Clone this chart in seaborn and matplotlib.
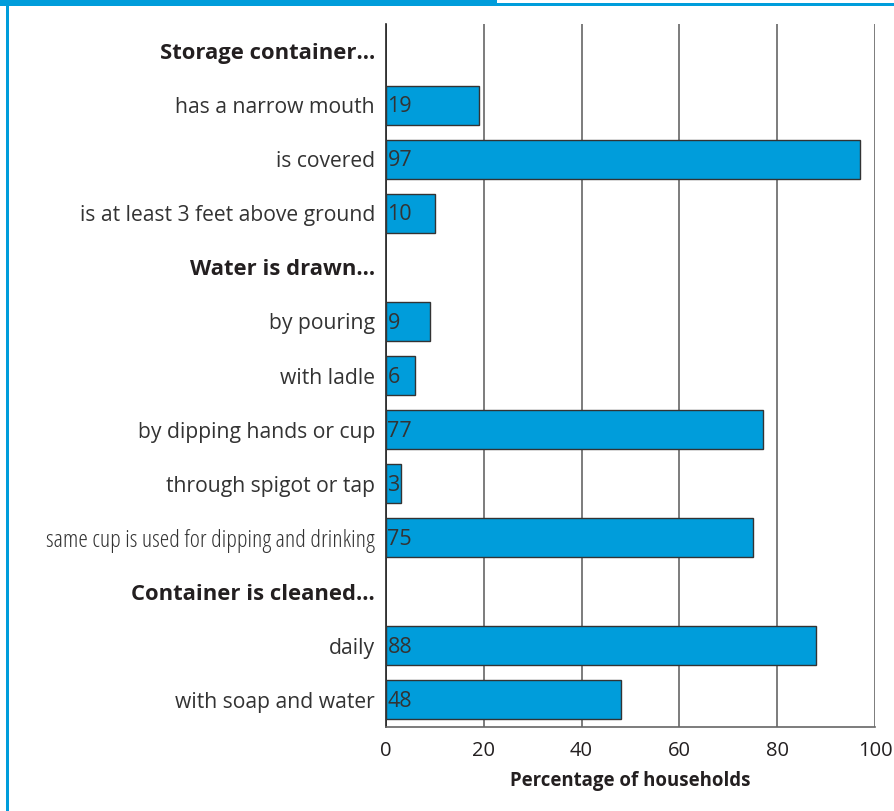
import matplotlib
matplotlib.use("Agg")
import matplotlib.pyplot as plt
import seaborn as sns
import pandas as pd

categories = [
    "Storage container...",
    "has a narrow mouth",
    "is covered",
    "is at least 3 feet above ground",
    "Water is drawn...",
    "by pouring",
    "with ladle",
    "by dipping hands or cup",
    "through spigot or tap",
    "same cup is used for dipping and drinking",
    "Container is cleaned...",
    "daily",
    "with soap and water",
]
headers = ["Storage container...", "Water is drawn...", "Container is cleaned..."]
items = [
    "has a narrow mouth", "is covered", "is at least 3 feet above ground",
    "by pouring", "with ladle", "by dipping hands or cup", "through spigot or tap",
    "same cup is used for dipping and drinking", "daily", "with soap and water",
]
percent = [19, 97, 10, 9, 6, 77, 3, 75, 88, 48]
xticks = [0, 20, 40, 60, 80, 100]

sns.set_theme(style="white")
plt.rcParams["font.family"] = ["Open Sans", "DejaVu Sans"]

BLUE = "#009ddb"
TEXT = "#231f20"
LABEL = "#333333"

df = pd.DataFrame({"item": items, "percent": percent})

fig = plt.figure(figsize=(8.94, 8.11), dpi=100)
ax = fig.add_axes([386 / 894, 84 / 811, 489 / 894, 703 / 811])

sns.barplot(data=df, x="percent", y="item", order=categories, orient="h",
            color=BLUE, saturation=1, width=0.72, edgecolor="#333333",
            linewidth=1.0, ax=ax, zorder=3)

ax.set_xlim(0, 100)
ax.set_ylim(len(categories) - 0.5, -0.5)
ax.set_xticks(xticks)
ax.set_xticklabels([str(t) for t in xticks], fontsize=14.5, color=TEXT)
ax.tick_params(axis="x", length=0, pad=10)
ax.tick_params(axis="y", length=0, pad=8)
ax.grid(axis="x", color="#666666", linewidth=1.2, zorder=0)
ax.grid(axis="y", visible=False)

ax.set_yticks(range(len(categories)))
ax.set_yticklabels(categories, fontsize=15.2, color=LABEL)
for lab in ax.get_yticklabels():
    t = lab.get_text()
    if t in headers:
        lab.set_fontweight("bold")
        lab.set_fontsize(15.8)
        lab.set_color(TEXT)
    if t == "same cup is used for dipping and drinking":
        lab.set_fontsize(17.5)
        lab.set_fontstretch("condensed")

ax.set_xlabel("Percentage of households", fontsize=13.4, fontweight="bold",
              color=TEXT, labelpad=7)
ax.set_ylabel("")

for side in ("top", "right"):
    ax.spines[side].set_visible(False)
ax.spines["left"].set_color("#222222")
ax.spines["left"].set_linewidth(1.2)
ax.spines["bottom"].set_color("#666666")
ax.spines["bottom"].set_linewidth(1.2)

# value labels inside each bar
for name, val in zip(items, percent):
    ax.text(0.3, categories.index(name) + 0.03, f"{val}", va="center", ha="left",
            fontsize=15.5, color=LABEL, zorder=4)

# blue frame decoration
fig.patches.append(plt.Rectangle((0, 805 / 811), 497 / 894, 6 / 811,
                                 transform=fig.transFigure, color=BLUE, lw=0))
fig.patches.append(plt.Rectangle((497 / 894, 805 / 811), 397 / 894, 3 / 811,
                                 transform=fig.transFigure, color=BLUE, lw=0))
fig.patches.append(plt.Rectangle((6 / 894, 0), 3 / 894, 805 / 811,
                                 transform=fig.transFigure, color=BLUE, lw=0))

fig.savefig("out.png", dpi=100)
